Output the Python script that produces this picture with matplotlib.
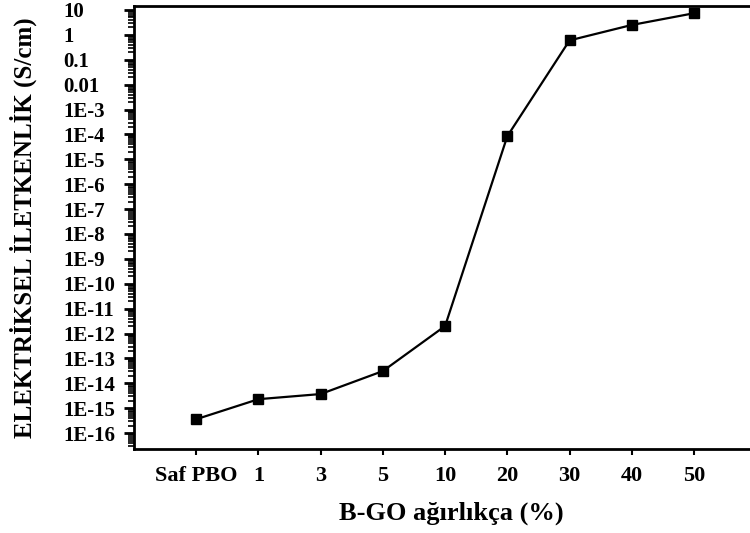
import matplotlib
matplotlib.use("Agg")
import matplotlib.pyplot as plt
import numpy as np
from matplotlib.ticker import LogLocator, NullFormatter, FixedLocator

categories = ["Saf PBO", "1", "3", "5", "10", "20", "30", "40", "50"]
conductivity = [3.6e-16, 2.3e-15, 3.7e-15, 3.1e-14, 2.0e-12, 8.5e-5, 0.6, 2.5, 7.4]
ytick_exponents = list(range(-16, 2))
ytick_labels = ["1E-16", "1E-15", "1E-14", "1E-13", "1E-12", "1E-11", "1E-10",
                "1E-9", "1E-8", "1E-7", "1E-6", "1E-5", "1E-4", "1E-3",
                "0.01", "0.1", "1", "10"]
xlabel = "B-GO ağırlıkça (%)"
ylabel = "ELEKTRİKSEL İLETKENLİK (S/cm)"

plt.rcParams['font.family'] = ['Liberation Serif', 'DejaVu Serif']
plt.rcParams['font.weight'] = 'bold'

fig = plt.figure(figsize=(7.5, 5.33), dpi=100)
ax = fig.add_axes([134/750, 1-449/533, 1-134/750, (449-6)/533])

x = np.arange(len(categories))
ax.plot(x, conductivity, color='black', lw=1.6, marker='s', markersize=7.5,
        markerfacecolor='black', markeredgecolor='black')

ax.set_yscale('log')
ax.set_ylim(10**-16.64, 10**1.16)
ax.set_xlim(-1, 8.9)

yt = [10.0**e for e in ytick_exponents]
ax.yaxis.set_major_locator(FixedLocator(yt))
ax.set_yticklabels(ytick_labels)
ax.yaxis.set_minor_locator(LogLocator(base=10, subs=np.arange(2, 10), numticks=100))
ax.yaxis.set_minor_formatter(NullFormatter())

ax.set_xticks(x)
ax.set_xticklabels(categories)

ax.tick_params(axis='y', which='major', direction='out', length=7, width=2,
               labelsize=15, pad=44)
ax.tick_params(axis='y', which='minor', direction='out', length=4, width=1.2)
for lab in ax.get_yticklabels():
    lab.set_horizontalalignment('left')
    lab.set_fontweight('bold')
ax.tick_params(axis='x', which='major', direction='out', length=4, width=1.5,
               labelsize=16, pad=8)
for lab in ax.get_xticklabels():
    lab.set_fontweight('bold')

for s in ['right']:
    ax.spines[s].set_visible(False)
for s in ['left', 'bottom', 'top']:
    ax.spines[s].set_linewidth(2)

ax.set_xlabel(xlabel, fontsize=19, fontweight='bold')
ax.xaxis.set_label_coords(0.515, -0.118)
ax.set_ylabel(ylabel, fontsize=18, fontweight='bold')
ax.yaxis.set_label_coords(-0.157, 0.5)

fig.savefig("out.png", dpi=100)
